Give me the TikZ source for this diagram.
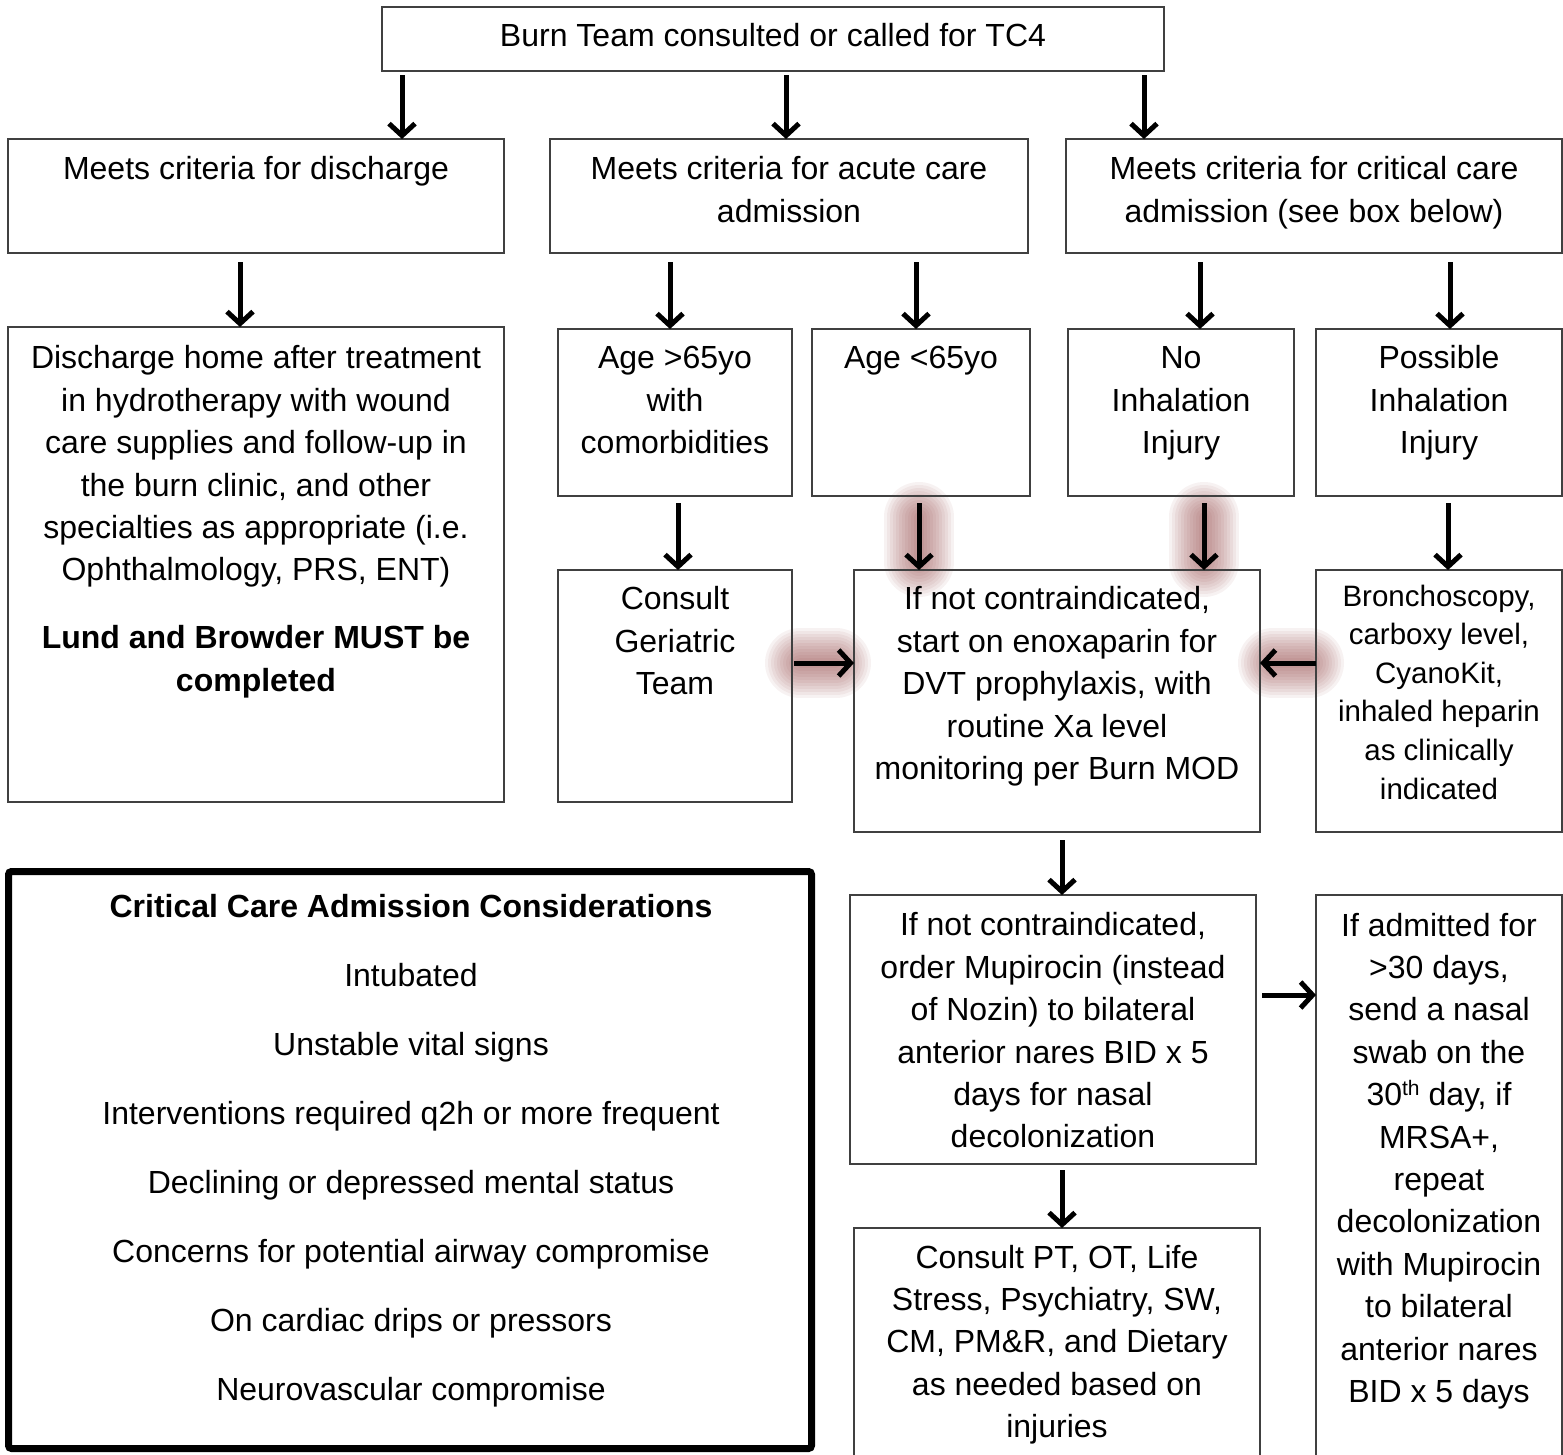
\documentclass[tikz,border=0pt]{standalone}
\usepackage{fontspec}
\setmainfont{Liberation Sans}
\usetikzlibrary{arrows.meta,backgrounds}
\definecolor{boxline}{RGB}{64,64,64}
\definecolor{glowc}{RGB}{140,60,60}
\begin{document}
\begin{tikzpicture}[x=1pt,y=-1pt,
  box/.style={draw=boxline, line width=2pt, inner sep=0pt, outer sep=0pt, rectangle, anchor=north west},
  txt/.style={align=center, inner sep=0pt, outer sep=0pt, anchor=north, font=\fontsize{32}{42.4}\selectfont},
  smalltxt/.style={txt, font=\fontsize{29.5}{38.6}\selectfont},
  listtxt/.style={txt, font=\fontsize{32}{69}\selectfont},
  arr/.style={draw=black, line width=5pt, -{Straight Barb[length=12pt,width=26pt]}},
  glowline/.style={draw=glowc, opacity=0.065, line cap=round},
]
\useasboundingbox (0,0) rectangle (1563,1454);
\clip (0,0) rectangle (1563,1454);

% ---------- boxes ----------
\node[box, minimum width=782pt, minimum height=64pt]  (top)    at (382,7) {};
\node[box, minimum width=496pt, minimum height=114pt] (dis)    at (8,139) {};
\node[box, minimum width=478pt, minimum height=114pt] (acu)    at (550,139) {};
\node[box, minimum width=496pt, minimum height=114pt] (cri)    at (1066,139) {};
\node[box, minimum width=496pt, minimum height=475pt] (home)   at (8,327) {};
\node[box, minimum width=234pt, minimum height=167pt] (ageo)   at (558,329) {};
\node[box, minimum width=218pt, minimum height=167pt] (agey)   at (812,329) {};
\node[box, minimum width=226pt, minimum height=167pt] (noinh)  at (1068,329) {};
\node[box, minimum width=246pt, minimum height=167pt] (posinh) at (1316,329) {};
\node[box, minimum width=234pt, minimum height=232pt] (ger)    at (558,570) {};
\node[box, minimum width=406pt, minimum height=262pt] (enox)   at (854,570) {};
\node[box, minimum width=246pt, minimum height=262pt] (bron)   at (1316,570) {};
\node[box, minimum width=406pt, minimum height=269pt] (mup)    at (850,895) {};
\node[box, minimum width=406pt, minimum height=252pt] (cons)   at (854,1228) {};
\node[box, minimum width=246pt, minimum height=585pt] (adm)    at (1316,895) {};
\node[box, draw=black, line width=7pt, rounded corners=3pt, minimum width=803pt, minimum height=577pt] (ccbox) at (8.5,871.5) {};

% ---------- texts ----------
\node[txt] (top-t) at (773,17.3) {\strut Burn Team consulted or called for TC4};
\node[txt] (dis-t) at (256,150.3) {\strut Meets criteria for discharge};
\node[txt] (acu-t) at (789,150.3) {\strut Meets criteria for acute care\\admission};
\node[txt] (cri-t) at (1314,150.3) {\strut Meets criteria for critical care\\admission (see box below)};
\node[txt] (home-t) at (256,339.3) {\strut Discharge home after treatment\\in hydrotherapy with wound\\care supplies and follow-up in\\the burn clinic, and other\\specialties as appropriate (i.e.\\Ophthalmology, PRS, ENT)};
\node[txt] (home-b) at (256,619.3) {\strut\bfseries Lund and Browder MUST be\\\bfseries completed};
\node[txt] (ageo-t) at (675,339.3) {\strut Age >65yo\\with\\comorbidities};
\node[txt] (agey-t) at (921,339.3) {\strut Age <65yo};
\node[txt] (noinh-t) at (1181,339.3) {\strut No\\Inhalation\\Injury};
\node[txt] (posinh-t) at (1439,339.3) {\strut Possible\\Inhalation\\Injury};
\node[txt] (ger-t) at (675,580.3) {\strut Consult\\Geriatric\\Team};
\node[txt] (enox-t) at (1057,580.3) {\strut If not contraindicated,\\start on enoxaparin for\\DVT prophylaxis, with\\routine Xa level\\monitoring per Burn MOD};
\node[smalltxt] (bron-t) at (1439,579) {\strut Bronchoscopy,\\carboxy level,\\CyanoKit,\\inhaled heparin\\as clinically\\indicated};
\node[txt] (mup-t) at (1053,906.3) {\strut If not contraindicated,\\order Mupirocin (instead\\of Nozin) to bilateral\\anterior nares BID x 5\\days for nasal\\decolonization};
\node[txt] (adm-t) at (1439,906.3) {\strut If admitted for\\>30 days,\\send a nasal\\swab on the\\30\raisebox{10pt}{\fontsize{21}{21}\selectfont th} day, if\\MRSA+,\\repeat\\decolonization\\with Mupirocin\\to bilateral\\anterior nares\\BID x 5 days};
\node[txt] (cons-t) at (1057,1238.3) {\strut Consult PT, OT, Life\\Stress, Psychiatry, SW,\\CM, PM\&R, and Dietary\\as needed based on\\injuries};
\node[listtxt] (cc-t) at (411,868.7) {\strut\bfseries Critical Care Admission Considerations\\Intubated\\Unstable vital signs\\Interventions required q2h or more frequent\\Declining or depressed mental status\\Concerns for potential airway compromise\\On cardiac drips or pressors\\Neurovascular compromise};

% ---------- glows ----------
\begin{scope}[on background layer]
\foreach \w in {70,64,58,52,46,40,34,28,22,16,10}{
  \draw[glowline, line width=\w pt, shorten <=21pt, shorten >=8pt] (agey.south -| 919,0) -- (enox.north -| 919,0);
  \draw[glowline, line width=\w pt, shorten <=21pt, shorten >=8pt] (noinh.south -| 1204,0) -- (enox.north -| 1204,0);
  \draw[glowline, line width=\w pt, shorten <=8pt, shorten >=18pt] (ger.east |- 0,663) -- (enox.west |- 0,663);
  \draw[glowline, line width=\w pt, shorten <=7pt, shorten >=13pt] (bron.west |- 0,663) -- (enox.east |- 0,663);
}
\end{scope}

% ---------- arrows ----------
\draw[arr, shorten <=4pt] (top.south -| 402,0) -- (dis.north -| 402,0);
\draw[arr, shorten <=4pt] (top.south -| 786,0) -- (acu.north -| 786,0);
\draw[arr, shorten <=4pt] (top.south -| 1144,0) -- (cri.north -| 1144,0);
\draw[arr, shorten <=9pt] (dis.south -| 240,0) -- (home.north -| 240,0);
\draw[arr, shorten <=9pt] (acu.south -| 670,0) -- (ageo.north -| 670,0);
\draw[arr, shorten <=9pt] (acu.south -| 916,0) -- (agey.north -| 916,0);
\draw[arr, shorten <=9pt] (cri.south -| 1200,0) -- (noinh.north -| 1200,0);
\draw[arr, shorten <=9pt] (cri.south -| 1450,0) -- (posinh.north -| 1450,0);
\draw[arr, shorten <=7pt] (ageo.south -| 678,0) -- (ger.north -| 678,0);
\draw[arr, shorten <=7pt] (agey.south -| 919,0) -- (enox.north -| 919,0);
\draw[arr, shorten <=7pt] (noinh.south -| 1204,0) -- (enox.north -| 1204,0);
\draw[arr, shorten <=7pt] (posinh.south -| 1448,0) -- (bron.north -| 1448,0);
\draw[arr, shorten <=2pt] (ger.east |- 0,663) -- (enox.west |- 0,663);
\draw[arr] (bron.west |- 0,663) -- (enox.east |- 0,663);
\draw[arr, shorten <=8pt] (enox.south -| 1062,0) -- (mup.north -| 1062,0);
\draw[arr, shorten <=6pt] (mup.south -| 1062,0) -- (cons.north -| 1062,0);
\draw[arr, shorten <=6pt] (mup.east |- 0,995) -- (adm.west |- 0,995);
\end{tikzpicture}
\end{document}
